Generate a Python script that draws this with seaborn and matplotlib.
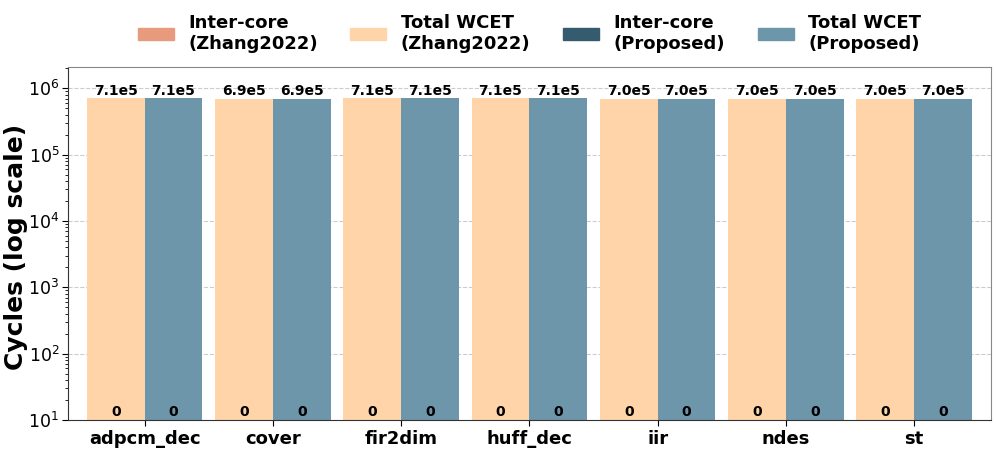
import numpy as np
import pandas as pd
import matplotlib
matplotlib.use('Agg')
import matplotlib.pyplot as plt
import seaborn as sns
from matplotlib.patches import Patch

benchmarks = ['adpcm_dec', 'cover', 'fir2dim', 'huff_dec', 'iir', 'ndes', 'st']
zhang_inter = [0, 0, 0, 0, 0, 0, 0]
zhang_total = [7.1e5, 6.9e5, 7.1e5, 7.1e5, 7.0e5, 7.0e5, 7.0e5]
prop_inter = [0, 0, 0, 0, 0, 0, 0]
prop_total = [7.1e5, 6.9e5, 7.1e5, 7.1e5, 7.0e5, 7.0e5, 7.0e5]
methods = ['Zhang2022', 'Proposed']

c_inter_z = '#E89A7D'
c_total_z = '#FFD4A9'
c_inter_p = '#355B6F'
c_total_p = '#6D96AB'

sns.set_style('white')
plt.rcParams['font.family'] = ['DejaVu Sans']
plt.rcParams['text.color'] = 'black'
plt.rcParams['xtick.color'] = 'black'
plt.rcParams['ytick.color'] = 'black'
plt.rcParams['axes.labelcolor'] = 'black'

df_total = pd.DataFrame({
    'bench': benchmarks * 2,
    'method': ['Zhang2022'] * 7 + ['Proposed'] * 7,
    'value': zhang_total + prop_total,
})
df_inter = pd.DataFrame({
    'bench': benchmarks * 2,
    'method': ['Zhang2022'] * 7 + ['Proposed'] * 7,
    'value': zhang_inter + prop_inter,
})

fig, ax = plt.subplots(figsize=(9.96, 4.53), dpi=100)
fig.subplots_adjust(left=0.068, right=0.995, top=0.852, bottom=0.073)

sns.barplot(data=df_total, x='bench', y='value', hue='method', hue_order=methods,
            palette=[c_total_z, c_total_p], width=0.9, dodge=True, ax=ax,
            legend=False, errorbar=None, saturation=1, linewidth=0)
n_total = len(ax.patches)
sns.barplot(data=df_inter, x='bench', y='value', hue='method', hue_order=methods,
            palette=[c_inter_z, c_inter_p], width=0.9, dodge=True, ax=ax,
            legend=False, errorbar=None, saturation=1, linewidth=0)

ax.set_yscale('log')
ax.set_ylim(10, 2.1e6)
ax.set_xlim(-0.6, 6.6)

def fmt(v):
    if v == 0:
        return '0'
    m, e = f'{v:.1e}'.split('e')
    return f'{m}e{int(e)}'

for i, p in enumerate(ax.patches):
    x = p.get_x() + p.get_width() / 2
    h = p.get_height()
    if i < n_total:
        ax.annotate(fmt(h), (x, h), xytext=(0, 0.5), textcoords='offset points',
                    ha='center', va='bottom', fontsize=10, fontweight='bold')
    else:
        ax.text(x, 10.3, fmt(h), ha='center', va='bottom', fontsize=10,
                fontweight='bold')

ax.set_xlabel('')
ax.set_ylabel('Cycles (log scale)', fontsize=18, fontweight='bold')
ax.yaxis.set_label_coords(-0.043, 0.49)
ax.tick_params(axis='x', labelsize=13, length=4, bottom=True)
ax.tick_params(axis='y', which='major', labelsize=12.5, length=4, left=True, pad=2)
ax.tick_params(axis='y', which='minor', length=2, left=True)
for lab in ax.get_xticklabels():
    lab.set_fontweight('bold')
ax.yaxis.grid(True, which='major', linestyle='--', color='#cccccc', linewidth=0.8)
ax.set_axisbelow(True)
for s in ax.spines.values():
    s.set_color('#888888')
ax.spines['left'].set_color('#333333')
ax.spines['bottom'].set_color('#333333')

handles = [
    Patch(color=c_inter_z, label='Inter-core\n(Zhang2022)'),
    Patch(color=c_total_z, label='Total WCET\n(Zhang2022)'),
    Patch(color=c_inter_p, label='Inter-core\n(Proposed)'),
    Patch(color=c_total_p, label='Total WCET\n(Proposed)'),
]
leg = ax.legend(handles=handles, loc='lower center', bbox_to_anchor=(0.5, 0.995),
                ncol=4, frameon=False,
                prop={'weight': 'bold', 'size': 13},
                handlelength=2.0, handleheight=0.68, handletextpad=0.8,
                columnspacing=1.8, labelspacing=0.2)

fig.savefig('out.png', dpi=100)
